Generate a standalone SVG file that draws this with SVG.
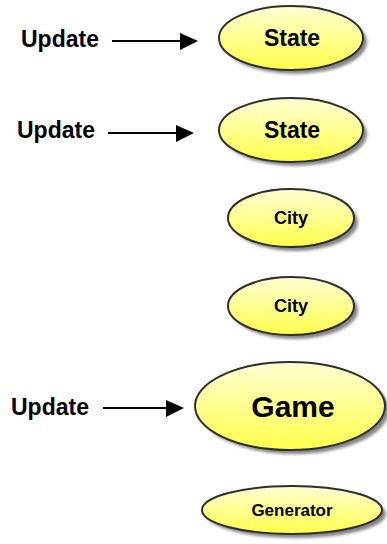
<svg xmlns="http://www.w3.org/2000/svg" width="387" height="544" viewBox="0 0 387 544">
  <defs>
    <linearGradient id="fillY" x1="0" y1="0" x2="0" y2="1">
      <stop offset="0" stop-color="#ffffd4"/>
      <stop offset="1" stop-color="#ffff4c"/>
    </linearGradient>
    <filter id="soft" x="-20%" y="-20%" width="140%" height="140%">
      <feGaussianBlur stdDeviation="1.5"/>
    </filter>
  </defs>
  <style>
    .shadow { fill: #858585; filter: url(#soft); }
    .node { fill: url(#fillY); stroke: #2e2e2e; stroke-width: 2; }
    .lbl { font-family: "Liberation Sans", Arial, sans-serif; font-weight: bold; fill: #000; text-anchor: middle; }
    .upd { font-family: "Liberation Sans", Arial, sans-serif; font-weight: bold; font-size: 23px; fill: #000; }
    .arrow { stroke: #000; stroke-width: 2; fill: none; }
    .tip { fill: #000; }
  </style>

  <rect width="387" height="544" fill="#fff"/>

  <!-- side labels -->
  <text class="upd" x="21" y="47">Update</text>
  <text class="upd" x="17" y="138">Update</text>
  <text class="upd" x="11" y="415">Update</text>

  <g id="connectors">
    <line class="arrow" x1="112" y1="41" x2="182" y2="41"/>
    <polygon class="tip" points="180,33 198,41 180,50"/>
    <line class="arrow" x1="108" y1="133" x2="178" y2="133"/>
    <polygon class="tip" points="176,125 194,133 176,142"/>
    <line class="arrow" x1="103" y1="408" x2="168" y2="408"/>
    <polygon class="tip" points="166,400 184,408 166,417"/>
  </g>

  <g id="state1">
    <ellipse class="shadow" cx="295" cy="42" rx="72" ry="32"/>
    <ellipse class="node" cx="291" cy="38" rx="72" ry="32"/>
    <text class="lbl" x="292" y="46" font-size="23">State</text>
  </g>

  <g id="state2">
    <ellipse class="shadow" cx="295" cy="134" rx="72" ry="32"/>
    <ellipse class="node" cx="291" cy="130" rx="72" ry="32"/>
    <text class="lbl" x="292" y="138" font-size="23">State</text>
  </g>

  <g id="city1">
    <ellipse class="shadow" cx="295" cy="222" rx="63" ry="29"/>
    <ellipse class="node" cx="291" cy="218" rx="63" ry="29"/>
    <text class="lbl" x="291" y="224" font-size="18">City</text>
  </g>

  <g id="city2">
    <ellipse class="shadow" cx="295" cy="310" rx="63" ry="29"/>
    <ellipse class="node" cx="291" cy="306" rx="63" ry="29"/>
    <text class="lbl" x="291" y="312" font-size="18">City</text>
  </g>

  <g id="game">
    <ellipse class="shadow" cx="294" cy="410" rx="95" ry="44"/>
    <ellipse class="node" cx="290" cy="406" rx="95" ry="44"/>
    <text class="lbl" x="293" y="417" font-size="30">Game</text>
  </g>

  <g id="generator">
    <ellipse class="shadow" cx="296" cy="514" rx="90" ry="24"/>
    <ellipse class="node" cx="292" cy="510" rx="90" ry="24"/>
    <text class="lbl" x="292" y="516" font-size="17">Generator</text>
  </g>
</svg>
